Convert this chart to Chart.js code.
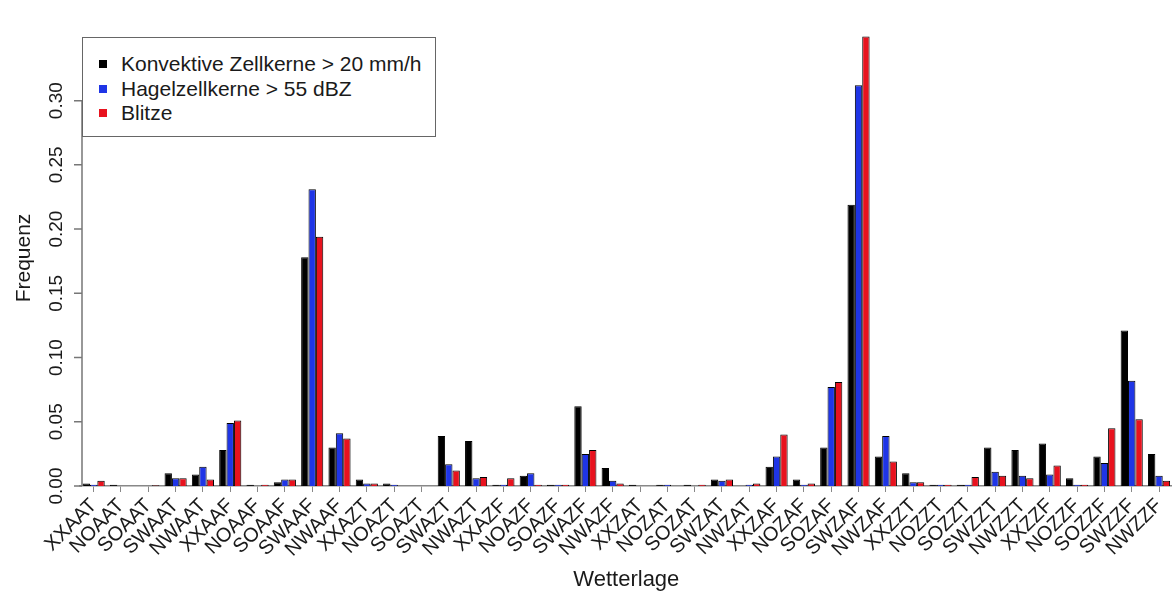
<!DOCTYPE html>
<html>
<head>
<meta charset="utf-8">
<script src="https://cdn.jsdelivr.net/npm/chart.js@4/dist/chart.umd.min.js"></script>
<style>
  html, body { margin: 0; padding: 0; background: #fff; overflow: hidden; }
  #wrap { position: relative; width: 1178px; height: 595px; }
  #legend {
    position: absolute; left: 82px; top: 37px; width: 352px; height: 98px;
    border: 1px solid #666; background: #fff;
    font-family: "Liberation Sans", Arial, sans-serif; font-size: 21px; color: #1a1a1a;
  }
  #legend div { position: absolute; left: 38px; line-height: 24px; white-space: nowrap; }
  #legend span { position: absolute; left: -22px; top: 8px; width: 8px; height: 8px; }
</style>
</head>
<body>
<div id="wrap">
  <canvas id="chart"></canvas>
  <div id="legend"></div>
</div>
<script>
  /* ── data ── */
  const wetterlagen = ['XXAAT','NOAAT','SOAAT','SWAAT','NWAAT','XXAAF','NOAAF','SOAAF','SWAAF','NWAAF',
                       'XXAZT','NOAZT','SOAZT','SWAZT','NWAZT','XXAZF','NOAZF','SOAZF','SWAZF','NWAZF',
                       'XXZAT','NOZAT','SOZAT','SWZAT','NWZAT','XXZAF','NOZAF','SOZAF','SWZAF','NWZAF',
                       'XXZZT','NOZZT','SOZZT','SWZZT','NWZZT','XXZZF','NOZZF','SOZZF','SWZZF','NWZZF'];
  const zellkerne = [0.002,0.001,0,0.010,0.009,0.028,0.001,0.003,0.178,0.030,
                     0.005,0.002,0,0.039,0.035,0.001,0.008,0.001,0.062,0.014,
                     0.001,0.001,0.001,0.005,0,0.015,0.005,0.030,0.219,0.023,
                     0.010,0.001,0.001,0.030,0.028,0.033,0.006,0.023,0.121,0.025];
  const hagel     = [0.001,0,0,0.006,0.015,0.049,0,0.005,0.231,0.041,
                     0.002,0.001,0,0.017,0.006,0.001,0.010,0.001,0.025,0.004,
                     0,0.001,0,0.004,0.001,0.023,0.001,0.077,0.312,0.039,
                     0.003,0.001,0.001,0.011,0.008,0.009,0.001,0.018,0.082,0.008];
  const blitze    = [0.004,0,0.0005,0.006,0.005,0.051,0.001,0.005,0.194,0.037,
                     0.002,0,0,0.012,0.007,0.006,0.001,0.001,0.028,0.002,
                     0,0,0.001,0.005,0.002,0.040,0.002,0.081,0.350,0.019,
                     0.003,0.001,0.007,0.008,0.006,0.016,0.001,0.045,0.052,0.004];
  const yTicks = [0, 0.05, 0.10, 0.15, 0.20, 0.25, 0.30];

  const seriesNames = ['Konvektive Zellkerne > 20 mm/h', 'Hagelzellkerne > 55 dBZ', 'Blitze'];
  const seriesColors = ['#000000', '#1f35e6', '#e8121e'];

  const FONT = '"Liberation Sans", Arial, sans-serif';

  /* ── legend (html box like R's legend) ── */
  const legendEl = document.getElementById('legend');
  seriesNames.forEach((name, i) => {
    const row = document.createElement('div');
    row.style.top = (14 + i * 24.5) + 'px';
    row.innerHTML = '<span style="background:' + seriesColors[i] + '"></span>' + name;
    legendEl.appendChild(row);
  });

  /* ── R-style y axis: partial line, rotated labels ── */
  const rAxis = {
    id: 'rAxis',
    afterDraw(chart) {
      const { ctx, chartArea, scales } = chart;
      const y = scales.y;
      const x0 = chartArea.left + 2;
      ctx.save();
      ctx.strokeStyle = '#777';
      ctx.lineWidth = 1.5;
      ctx.beginPath();
      ctx.moveTo(x0, y.getPixelForValue(yTicks[0]));
      ctx.lineTo(x0, y.getPixelForValue(yTicks[yTicks.length - 1]));
      yTicks.forEach(v => {
        const py = y.getPixelForValue(v);
        ctx.moveTo(x0, py);
        ctx.lineTo(x0 - 8, py);
      });
      ctx.stroke();
      ctx.fillStyle = '#1a1a1a';
      ctx.font = '19px ' + FONT;
      ctx.textAlign = 'center';
      ctx.textBaseline = 'middle';
      yTicks.forEach(v => {
        ctx.save();
        ctx.translate(57, y.getPixelForValue(v));
        ctx.rotate(-Math.PI / 2);
        ctx.fillText(v.toFixed(2), 0, 0);
        ctx.restore();
      });
      ctx.restore();
    }
  };

  const datasets = [zellkerne, hagel, blitze].map((d, i) => ({
    label: seriesNames[i],
    data: d,
    backgroundColor: seriesColors[i],
    borderColor: '#000',
    borderWidth: 1,
    categoryPercentage: 0.81,
    barPercentage: 1.0
  }));

  new Chart(document.getElementById('chart').getContext('2d'), {
    type: 'bar',
    data: { labels: wetterlagen, datasets },
    plugins: [rAxis],
    options: {
      responsive: true,
      maintainAspectRatio: false,
      animation: false,
      devicePixelRatio: 1,
      layout: { padding: { top: 30, right: 0, left: 0, bottom: 0 } },
      plugins: {
        legend: { display: false },
        tooltip: { enabled: false }
      },
      scales: {
        x: {
          afterFit: s => { s.height = 109; },
          grid: { display: true, drawOnChartArea: false, offset: false, tickLength: 6, color: '#888', lineWidth: 1 },
          border: { display: true, color: '#888', width: 1.5 },
          ticks: {
            autoSkip: false,
            minRotation: 45,
            maxRotation: 45,
            padding: 2,
            color: '#1a1a1a',
            font: { family: FONT, size: 20 }
          },
          title: {
            display: true,
            text: 'Wetterlage',
            color: '#1a1a1a',
            font: { family: FONT, size: 22 },
            padding: { top: 0, bottom: 2 }
          }
        },
        y: {
          min: 0,
          max: 0.355,
          afterFit: s => { s.width = 80; },
          grid: { display: false },
          border: { display: false },
          ticks: { display: false },
          title: {
            display: true,
            text: 'Frequenz',
            color: '#1a1a1a',
            font: { family: FONT, size: 21 },
            padding: { top: 12, bottom: 0 }
          }
        }
      }
    }
  });
</script>
</body>
</html>
